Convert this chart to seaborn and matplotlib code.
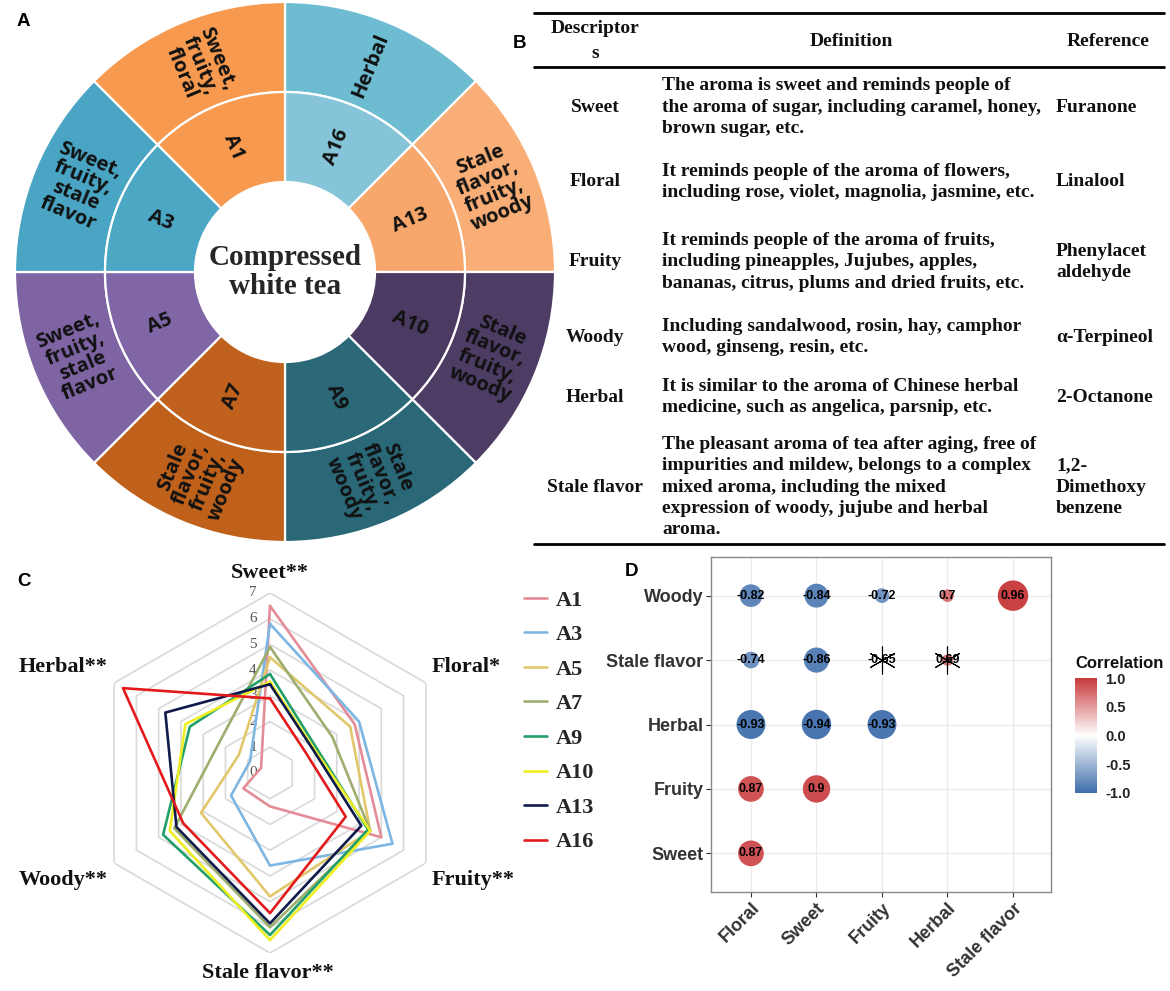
import numpy as np
import pandas as pd
import seaborn as sns
import matplotlib.pyplot as plt
import matplotlib.transforms as mtransforms
from matplotlib.colors import LinearSegmentedColormap, Normalize
from matplotlib.cm import ScalarMappable
from matplotlib.lines import Line2D

sns.set_theme(style='white')
plt.rcParams['font.family'] = ['DejaVu Sans']

# ---------------- data ----------------
# panel A: samples clockwise from 12 o'clock
ring_samples = ['A16', 'A13', 'A10', 'A9', 'A7', 'A5', 'A3', 'A1']
ring_descs = ['Herbal',
              'Stale\nflavor,\nfruity,\nwoody',
              'Stale\nflavor,\nfruity,\nwoody',
              'Stale\nflavor,\nfruity,\nwoody',
              'Stale\nflavor,\nfruity,\nwoody',
              'Sweet,\nfruity,\nstale\nflavor',
              'Sweet,\nfruity,\nstale\nflavor',
              'Sweet,\nfruity,\nfloral']
inner_colors = ['#86C5D9', '#F7A76B', '#4B3A61', '#2B6878', '#C0621D', '#8066A6', '#4BA7C4', '#F79A50']
outer_colors = ['#6DBCD2', '#F8AE76', '#4D3C64', '#2A6777', '#BF611B', '#7F64A4', '#49A5C3', '#F79A50']

# panel B: table
tab_desc = ['Sweet', 'Floral', 'Fruity', 'Woody', 'Herbal', 'Stale flavor']
tab_def = ['The aroma is sweet and reminds people of\nthe aroma of sugar, including caramel, honey,\nbrown sugar, etc.',
           'It reminds people of the aroma of flowers,\nincluding rose, violet, magnolia, jasmine, etc.',
           'It reminds people of the aroma of fruits,\nincluding pineapples, Jujubes, apples,\nbananas, citrus, plums and dried fruits, etc.',
           'Including sandalwood, rosin, hay, camphor\nwood, ginseng, resin, etc.',
           'It is similar to the aroma of Chinese herbal\nmedicine, such as angelica, parsnip, etc.',
           'The pleasant aroma of tea after aging, free of\nimpurities and mildew, belongs to a complex\nmixed aroma, including the mixed\nexpression of woody, jujube and herbal\naroma.']
tab_ref = ['Furanone', 'Linalool', 'Phenylacet\naldehyde', '\u03b1-Terpineol', '2-Octanone', '1,2-\nDimethoxy\nbenzene']
row_y = [107, 182, 262, 337, 397, 487]

# panel C: radar scores (Sweet, Floral, Fruity, Stale flavor, Woody, Herbal)
radar_axes = ['Sweet**', 'Floral*', 'Fruity**', 'Stale flavor**', 'Woody**', 'Herbal**']
radar_samples = ['A1', 'A3', 'A5', 'A7', 'A9', 'A10', 'A13', 'A16']
radar_scores = [
    [6.5, 3.8, 5.0, 1.3, 1.2, 0.4],
    [5.8, 4.0, 5.5, 3.6, 1.75, 0.9],
    [4.5, 3.6, 4.5, 4.8, 3.1, 1.4],
    [4.9, 2.8, 4.5, 6.0, 4.3, 2.3],
    [3.85, 2.05, 4.4, 6.3, 4.8, 3.6],
    [3.55, 1.95, 4.5, 6.5, 4.5, 3.8],
    [3.45, 1.9, 4.1, 5.85, 4.2, 4.7],
    [2.9, 1.6, 3.4, 5.45, 3.9, 6.6],
]
radar_colors = ['#E48C97', '#7DB6E2', '#E2C86C', '#9DAE6F', '#22A06B', '#EEEE22', '#0E1B4B', '#E31A1C']

# panel D: correlations
x_order = ['Floral', 'Sweet', 'Fruity', 'Herbal', 'Stale flavor']
y_order = ['Sweet', 'Fruity', 'Herbal', 'Stale flavor', 'Woody']
pair_x = ['Floral', 'Floral', 'Sweet', 'Floral', 'Sweet', 'Fruity',
          'Floral', 'Sweet', 'Fruity', 'Herbal',
          'Floral', 'Sweet', 'Fruity', 'Herbal', 'Stale flavor']
pair_y = ['Sweet', 'Fruity', 'Fruity', 'Herbal', 'Herbal', 'Herbal',
          'Stale flavor', 'Stale flavor', 'Stale flavor', 'Stale flavor',
          'Woody', 'Woody', 'Woody', 'Woody', 'Woody']
corr = [0.87, 0.87, 0.9, -0.93, -0.94, -0.93,
        -0.74, -0.86, -0.65, 0.69,
        -0.82, -0.84, -0.72, 0.7, 0.96]
signif = [True, True, True, True, True, True,
          True, True, False, False,
          True, True, True, True, True]

# ---------------- figure ----------------
W, H = 1170, 991
fig = plt.figure(figsize=(W / 100, H / 100), dpi=100)


def frac(x0, y0, w, h):
    return [x0 / W, 1 - (y0 + h) / H, w / W, h / H]


serif = 'Liberation Serif'
sans = 'Liberation Sans'

# ---- A: two-ring donut
cx, cy, R = 285, 272, 270
axA = fig.add_axes(frac(cx - 282, cy - 282, 564, 564))
axA.pie([1] * 8, radius=1, colors=outer_colors, startangle=90, counterclock=False,
        wedgeprops=dict(width=1 - 180 / R, edgecolor='white', linewidth=1.6))
axA.pie([1] * 8, radius=180 / R, colors=inner_colors, startangle=90, counterclock=False,
        wedgeprops=dict(width=90 / R, edgecolor='white', linewidth=1.6))
axA.set_xlim(-282 / R, 282 / R)
axA.set_ylim(-282 / R, 282 / R)
axA.set_aspect('equal')
axA.axis('off')
for i, (s, d) in enumerate(zip(ring_samples, ring_descs)):
    acw = 22.5 + 45 * i
    th = np.deg2rad(90 - acw)
    rot = 90 - acw if acw < 180 else 270 - acw
    r_in, r_out = 135 / R, 223 / R
    axA.text(r_in * np.cos(th), r_in * np.sin(th), s, rotation=rot, rotation_mode='anchor',
             ha='center', va='center', fontsize=14.5, fontweight='bold', family='Open Sans', color='#111111')
    axA.text(r_out * np.cos(th), r_out * np.sin(th), d, rotation=rot, rotation_mode='anchor',
             ha='center', va='center', fontsize=14.5, fontweight='bold', family='Open Sans',
             linespacing=0.95, color='#111111')
axA.text(0, 0, 'Compressed\nwhite tea', ha='center', va='center', fontsize=21,
         fontweight='bold', family=serif, linespacing=1.05)

# ---- C: radar
rc_x, rc_y, rr = 270, 773, 180
axC = fig.add_axes(frac(rc_x - rr, rc_y - rr, 2 * rr, 2 * rr), projection='polar')
axC.set_theta_zero_location('N')
axC.set_theta_direction(-1)
theta = np.deg2rad(np.arange(6) * 60)
theta_closed = np.append(theta, 2 * np.pi)
for lev in range(1, 8):
    axC.plot(theta_closed, [lev] * 7, color='#d9d9d9', lw=1.2, zorder=1)
rows = []
for s, vals in zip(radar_samples, radar_scores):
    for t, v in zip(theta_closed, vals + vals[:1]):
        rows.append((s, t, v))
radar_df = pd.DataFrame(rows, columns=['sample', 'theta', 'score'])
sns.lineplot(data=radar_df, x='theta', y='score', hue='sample', hue_order=radar_samples,
             palette=radar_colors, sort=False, estimator=None, lw=1.9, legend=False, ax=axC, zorder=3)
axC.set_ylim(0, 7)
axC.set_xticks([])
axC.set_yticks([])
axC.grid(False)
axC.spines['polar'].set_visible(False)
axC.set_facecolor('none')
axC.set_xlabel('')
axC.set_ylabel('')
lab_tr = axC.transData + mtransforms.ScaledTranslation(-0.17, 0, fig.dpi_scale_trans)
for lev in range(8):
    axC.text(0, lev, str(lev), transform=lab_tr, ha='center', va='center', fontsize=11,
             family=serif, color='#555555', zorder=2)
handles = [Line2D([], [], color=c, lw=1.9) for c in radar_colors]
fig.legend(handles, radar_samples, loc='upper left', bbox_to_anchor=(504 / W, 1 - 570 / H),
           frameon=False, handlelength=1.05, handletextpad=0.4, labelspacing=0.63,
           prop=dict(family=serif, weight='bold', size=16))

# ---- D: correlation bubbles
cmap = LinearSegmentedColormap.from_list('cor', ['#3D6DAB', '#FFFFFF', '#C8393B'])
cdf = pd.DataFrame(dict(x=pair_x, y=pair_y, r=corr, sig=signif))
cdf['xi'] = cdf['x'].map(x_order.index)
cdf['yi'] = cdf['y'].map(y_order.index)
cdf['absr'] = cdf['r'].abs()
axD = fig.add_axes(frac(711, 557, 340, 335))
axD.set_facecolor('white')
axD.grid(True, color='#ebebeb', lw=0.9)
axD.set_axisbelow(True)
sns.scatterplot(data=cdf, x='xi', y='yi', hue='r', hue_norm=(-1, 1), palette=cmap,
                size='absr', sizes=(6, 480), size_norm=(0.65, 0.96), edgecolor='none',
                legend=False, ax=axD, zorder=3)
for _, row in cdf.iterrows():
    axD.text(row.xi, row.yi, f'{row.r:g}', ha='center', va='center', fontsize=9,
             fontweight='bold', family=sans, color='black', zorder=4)
ns = cdf[~cdf['sig']]
axD.scatter(ns.xi, ns.yi, marker=(6, 2, 0), s=380, color='black', linewidths=0.8, zorder=5)
axD.set_xlim(-0.61, 4.58)
axD.set_ylim(-0.6, 4.6)
axD.set_xticks(range(5))
axD.set_xticklabels(x_order, rotation=45, ha='right', rotation_mode='anchor')
axD.set_yticks(range(5))
axD.set_yticklabels(y_order)
axD.set_xlabel('')
axD.set_ylabel('')
for lab in axD.get_xticklabels() + axD.get_yticklabels():
    lab.set_fontfamily(sans)
    lab.set_fontweight('bold')
    lab.set_fontsize(13)
    lab.set_color('#333333')
axD.tick_params(axis='both', length=3.5, width=0.8, color='#333333', pad=2, bottom=True, left=True)
for sp in axD.spines.values():
    sp.set_color('#888888')
    sp.set_linewidth(1.0)

cax = fig.add_axes(frac(1075, 678, 22, 115))
cb = fig.colorbar(ScalarMappable(norm=Normalize(-1, 1), cmap=cmap), cax=cax, ticks=[-1, -0.5, 0, 0.5, 1])
cb.ax.set_yticklabels(['-1.0', '-0.5', '0.0', '0.5', '1.0'])
cb.outline.set_visible(False)
cb.ax.tick_params(length=0, pad=6)
for lab in cb.ax.get_yticklabels():
    lab.set_fontfamily(sans)
    lab.set_fontweight('bold')
    lab.set_fontsize(10.5)
    lab.set_color('#222222')

# ---- overlay: table B, panel letters, radar axis names
ov = fig.add_axes([0, 0, 1, 1], zorder=10)
ov.set_xlim(0, W)
ov.set_ylim(H, 0)
ov.axis('off')

tfont = dict(family=serif, fontweight='bold', fontsize=14, color='#111111')
for yl in (13, 67, 544):
    ov.plot([534, 1164], [yl, yl], color='black', lw=2.0)
ov.text(595, 41, 'Descriptor\ns', ha='center', va='center', linespacing=1.55, **tfont)
ov.text(851, 41, 'Definition', ha='center', va='center', **tfont)
ov.text(1108, 41, 'Reference', ha='center', va='center', **tfont)
for d, df_, rf, y in zip(tab_desc, tab_def, tab_ref, row_y):
    ov.text(595, y, d, ha='center', va='center', **tfont)
    ov.text(662, y, df_, ha='left', va='center', linespacing=1.33, **tfont)
    ov.text(1056, y, rf, ha='left', va='center', linespacing=1.33, **tfont)

lfont = dict(family=sans, fontweight='bold', fontsize=13.5, color='black', ha='center', va='center')
ov.text(23, 22, 'A', **lfont)
ov.text(520, 44, 'B', **lfont)
ov.text(24, 582, 'C', **lfont)
ov.text(631, 572, 'D', **lfont)

cfont = dict(family=serif, fontweight='bold', fontsize=16, color='#111111', ha='center', va='center')
for name, (px, py) in zip(radar_axes, [(270, 573), (466, 667), (473, 880), (268, 973), (63, 880), (63, 667)]):
    ov.text(px, py, name, **cfont)

ov.text(1120, 663, 'Correlation', family=sans, fontweight='bold', fontsize=12,
        ha='center', va='center', color='#111111')

fig.savefig('out.png', dpi=100)
